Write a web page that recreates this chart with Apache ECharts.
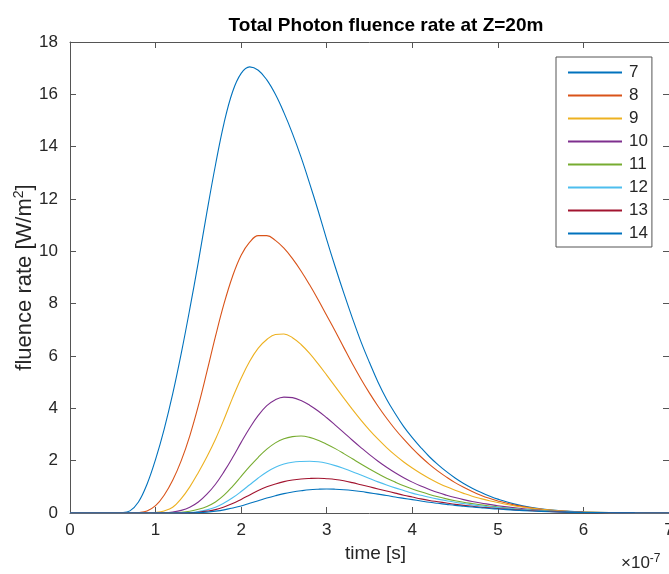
<!DOCTYPE html>
<html>
<head>
<meta charset="utf-8">
<script src="https://cdn.jsdelivr.net/npm/echarts@6/dist/echarts.min.js"></script>
<style>html,body{margin:0;padding:0;background:#fff}#c{width:669px;height:574px}</style>
</head>
<body>
<div id="c"></div>
<script>
// time in units of 1e-7 s
var time = [0,0.5,0.6,0.7,0.8,0.9,1.0,1.1,1.2,1.3,1.4,1.5,1.6,1.7,1.8,1.9,2.0,2.1,2.2,2.3,2.4,2.5,2.6,2.7,2.8,2.9,3.0,3.1,3.2,3.3,3.4,3.5,3.6,3.7,3.8,3.9,4.0,4.1,4.2,4.3,4.4,4.5,4.6,4.7,4.8,4.9,5.0,5.2,5.4,5.6,5.8,6.0,6.3,6.6,7.0];
var seriesNames = ['7','8','9','10','11','12','13','14'];
var s7  = [0,0,0.01,0.08,0.42,1.1,2.05,3.2,4.55,6.1,7.8,9.6,11.5,13.3,14.9,16.1,16.8,17.05,16.92,16.55,16.0,15.3,14.5,13.6,12.6,11.55,10.45,9.4,8.4,7.45,6.55,5.75,5.0,4.35,3.8,3.3,2.88,2.5,2.15,1.85,1.58,1.34,1.13,0.95,0.79,0.65,0.53,0.34,0.21,0.12,0.07,0.04,0.016,0.006,0];
var s8  = [0,0,0,0,0.02,0.08,0.28,0.68,1.25,2.0,2.95,4.1,5.4,6.75,8.0,9.05,9.85,10.35,10.6,10.6,10.42,10.12,9.72,9.25,8.72,8.15,7.55,6.95,6.32,5.7,5.12,4.58,4.08,3.62,3.2,2.82,2.47,2.15,1.86,1.6,1.37,1.16,0.98,0.82,0.68,0.56,0.46,0.3,0.185,0.11,0.063,0.036,0.015,0.005,0];
var s9  = [0,0,0,0,0,0,0.02,0.08,0.22,0.55,1.0,1.55,2.15,2.82,3.58,4.4,5.15,5.8,6.3,6.63,6.82,6.84,6.7,6.44,6.1,5.7,5.27,4.83,4.39,3.96,3.55,3.17,2.82,2.5,2.21,1.95,1.72,1.51,1.32,1.15,1.0,0.87,0.75,0.64,0.55,0.47,0.4,0.27,0.18,0.11,0.065,0.038,0.016,0.005,0];
var s10 = [0,0,0,0,0,0,0,0.01,0.04,0.1,0.22,0.42,0.72,1.1,1.58,2.12,2.7,3.25,3.73,4.1,4.33,4.43,4.41,4.3,4.12,3.9,3.64,3.36,3.07,2.78,2.5,2.23,1.98,1.75,1.54,1.35,1.18,1.03,0.9,0.78,0.68,0.59,0.51,0.44,0.38,0.33,0.28,0.2,0.135,0.085,0.052,0.031,0.013,0.004,0];
var s11 = [0,0,0,0,0,0,0,0,0.01,0.03,0.07,0.14,0.25,0.42,0.68,1.02,1.4,1.78,2.13,2.44,2.68,2.84,2.92,2.94,2.89,2.78,2.63,2.46,2.27,2.07,1.87,1.68,1.5,1.33,1.18,1.04,0.92,0.81,0.71,0.62,0.54,0.47,0.41,0.36,0.31,0.27,0.23,0.165,0.115,0.075,0.047,0.029,0.012,0.004,0];
var s12 = [0,0,0,0,0,0,0,0,0,0.01,0.02,0.06,0.12,0.22,0.38,0.58,0.82,1.08,1.34,1.57,1.75,1.87,1.94,1.97,1.98,1.96,1.9,1.81,1.7,1.58,1.45,1.32,1.19,1.07,0.96,0.86,0.76,0.68,0.6,0.53,0.47,0.41,0.36,0.31,0.27,0.24,0.21,0.15,0.105,0.068,0.042,0.026,0.011,0.004,0];
var s13 = [0,0,0,0,0,0,0,0,0,0,0.01,0.03,0.07,0.13,0.23,0.36,0.52,0.69,0.86,1.0,1.11,1.2,1.26,1.3,1.32,1.33,1.31,1.28,1.23,1.16,1.08,1.0,0.92,0.84,0.76,0.68,0.61,0.54,0.48,0.43,0.38,0.33,0.29,0.26,0.22,0.2,0.17,0.12,0.085,0.055,0.035,0.022,0.01,0.003,0];
var s14 = [0,0,0,0,0,0,0,0,0,0,0.005,0.015,0.035,0.07,0.12,0.19,0.27,0.37,0.47,0.57,0.66,0.74,0.8,0.85,0.89,0.91,0.92,0.91,0.89,0.86,0.82,0.77,0.72,0.67,0.61,0.56,0.51,0.46,0.41,0.37,0.33,0.29,0.26,0.23,0.2,0.17,0.15,0.11,0.075,0.05,0.032,0.02,0.009,0.003,0];
var xTicks = [0,1,2,3,4,5,6,7];
var yTicks = [0,2,4,6,8,10,12,14,16,18];

var colors = ['#0072BD','#D95319','#EDB120','#7E2F8E','#77AC30','#4DBEEE','#A2142F','#0072BD'];
var allSeries = [s7,s8,s9,s10,s11,s12,s13,s14];
var axisColor = '#555555';
var txtColor = '#262626';
var font = 'Liberation Sans, Arial, sans-serif';

function mkTick(len){ return {show:true, inside:false, length:len, lineStyle:{color:axisColor, width:1}}; }

var chart = echarts.init(document.getElementById('c'), null, {renderer:'canvas'});
var series = allSeries.map(function(vals, i){
  return {
    name: seriesNames[i], type:'line', symbol:'none', showSymbol:false, smooth:0.4,
    xAxisIndex:0, yAxisIndex:0,
    lineStyle:{width:1.1, color:colors[i]}, itemStyle:{color:colors[i]},
    data: time.map(function(t,j){return [t, vals[j]];})
  };
});
chart.setOption({
  animation:false,
  backgroundColor:'#fff',
  title:{text:'Total Photon fluence rate at Z=20m', left:381, top:11, textAlign:'center',
    textStyle:{fontFamily:font, fontSize:19, fontWeight:'bold', color:'#000'}},
  grid:{left:70, right:0, top:42, bottom:61, containLabel:false, outerBoundsMode:'none'},
  legend:{orient:'vertical', left:556, top:57, itemWidth:54, itemHeight:18, itemGap:6,
    padding:[7,4,5,11], borderColor:'#555', borderWidth:1, backgroundColor:'#fff',
    itemStyle:{opacity:0},
    textStyle:{fontFamily:font, fontSize:17, color:txtColor, padding:[0,0,0,2]},
    data: seriesNames},
  xAxis:[{type:'value', min:0, max:7, interval:1, name:'time [s]', nameLocation:'middle', nameGap:28,
      nameTextStyle:{fontFamily:font, fontSize:19, color:txtColor, padding:[0,0,0,12]},
      axisLine:{onZero:false, lineStyle:{color:axisColor}}, axisTick:mkTick(-6), splitLine:{show:false},
      axisLabel:{fontFamily:font, fontSize:17, color:txtColor, margin:9, hideOverlap:false}},
    {type:'value', position:'top', min:0, max:7, interval:1, axisLine:{show:true,onZero:false,lineStyle:{color:axisColor}},
      axisTick:mkTick(-6), axisLabel:{show:false}, splitLine:{show:false}}],
  yAxis:[{type:'value', min:0, max:18, interval:2, name:'fluence rate [W/m{sup|2}]', nameLocation:'middle', nameGap:33,
      nameRotate:90, nameMoveOverlap:false,
      nameTextStyle:{fontFamily:font, fontSize:22, color:txtColor, rich:{sup:{fontSize:14, verticalAlign:'top', padding:[0,0,11,0], fontFamily:font, color:txtColor}}},
      axisLine:{show:true,onZero:false,lineStyle:{color:axisColor}}, axisTick:mkTick(-6), splitLine:{show:false},
      axisLabel:{fontFamily:font, fontSize:17, color:txtColor, margin:12}},
    {type:'value', position:'right', min:0, max:18, interval:2, axisLine:{show:true,onZero:false,lineStyle:{color:axisColor}},
      axisTick:mkTick(-6), axisLabel:{show:false}, splitLine:{show:false}}],
  graphic:[{type:'text', left:621, top:553, style:{rich:{a:{fontFamily:font, fontSize:17, fill:txtColor}, e:{fontFamily:font, fontSize:12, fill:txtColor, verticalAlign:'top', padding:[0,0,9,0]}}, text:'{a|×10}{e|-7}'}}],
  series: series
});
</script>
</body>
</html>
